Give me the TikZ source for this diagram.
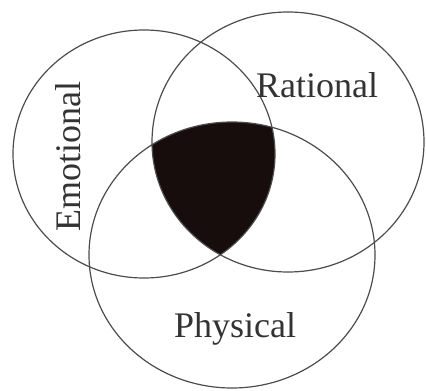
\documentclass[tikz,border=0pt]{standalone}
\usepackage{fontspec}
\setmainfont{Liberation Serif}
\usepackage{tikz}
\usetikzlibrary{positioning}
\definecolor{inkdark}{rgb}{0.09,0.05,0.05}

\begin{document}
\begin{tikzpicture}[
        x=1pt, y=1pt,
        ring/.style  = {draw=black!70, line width=1.2pt},
        core/.style  = {fill=inkdark},
        lbl/.style   = {font=\fontsize{36}{40}\selectfont, text=black!80, inner sep=0pt, anchor=base},
    ]
        \useasboundingbox (0,0) rectangle (426,-391);

        % shared region of the three sets
        \begin{scope}
            \clip (144,-154) ellipse [x radius=131pt, y radius=124pt];
            \clip (288,-142) ellipse [x radius=136pt, y radius=130pt];
            \fill[core] (232,-255) ellipse [x radius=143pt, y radius=133pt];
        \end{scope}

        \draw[ring] (144,-154) ellipse [x radius=131pt, y radius=124pt];
        \draw[ring] (288,-142) ellipse [x radius=136pt, y radius=130pt];
        \draw[ring] (232,-255) ellipse [x radius=143pt, y radius=133pt];

        \node[lbl, rotate=90] (emo) at (80,-157) {Emotional};
        \node[lbl] (rat) at (317,-97) {Rational};
        \node[lbl] (phy) at (235,-337) {Physical};
    \end{tikzpicture}
\end{document}
